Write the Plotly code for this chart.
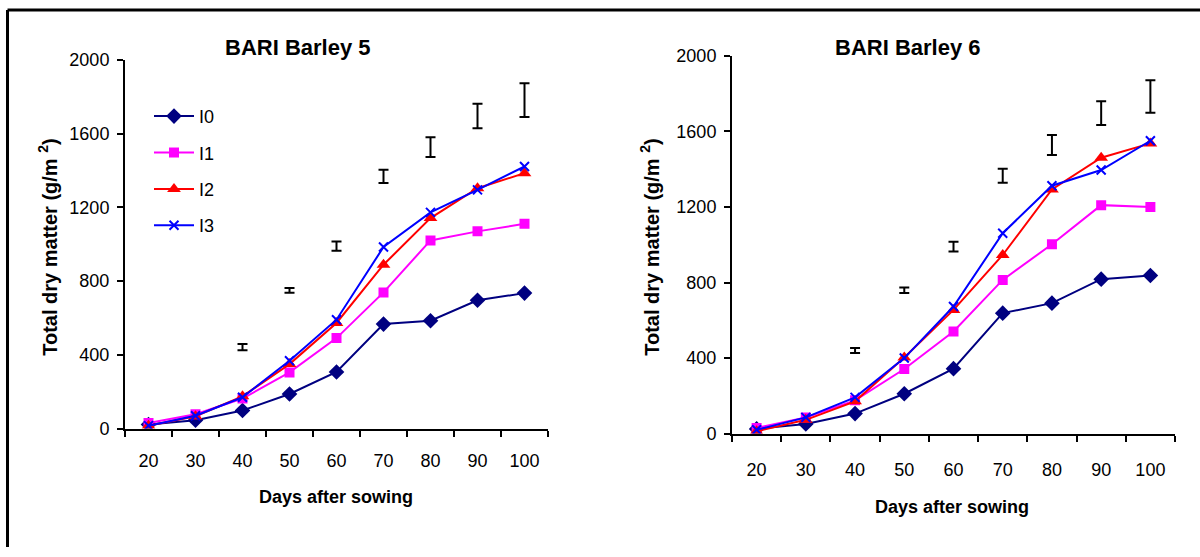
import plotly.graph_objects as go

days = ["20", "30", "40", "50", "60", "70", "80", "90", "100"]
series_names = ["I0", "I1", "I2", "I3"]

# BARI Barley 5
b5_I0 = [22, 45, 98, 188, 307, 567, 585, 696, 735]
b5_I1 = [31, 78, 163, 305, 491, 739, 1021, 1070, 1111]
b5_I2 = [15, 67, 175, 350, 573, 889, 1142, 1304, 1386]
b5_I3 = [16, 70, 170, 368, 591, 985, 1173, 1295, 1422]
b5_bar_days = ["40", "50", "60", "70", "80", "90", "100"]
b5_bar_center = [442, 750, 990, 1368, 1527, 1696, 1782]
b5_bar_half = [17, 13, 25, 36, 54, 66, 92]

# BARI Barley 6
b6_I0 = [25, 51, 106, 211, 344, 638, 691, 818, 837]
b6_I1 = [30, 85, 176, 342, 541, 814, 1003, 1210, 1200]
b6_I2 = [12, 73, 171, 403, 655, 946, 1293, 1461, 1537]
b6_I3 = [20, 86, 192, 400, 673, 1061, 1313, 1396, 1551]
b6_bar_days = ["40", "50", "60", "70", "80", "90", "100"]
b6_bar_center = [440, 759, 990, 1366, 1528, 1697, 1785]
b6_bar_half = [13, 15, 26, 37, 53, 63, 86]

titles = ["BARI Barley 5", "BARI Barley 6"]
y_ticks = [0, 400, 800, 1200, 1600, 2000]

FONT = "Liberation Sans, Arial, sans-serif"
styles = [
    dict(color="#000080", symbol="diamond", size=12),
    dict(color="#FF00FF", symbol="square", size=10),
    dict(color="#FF0000", symbol="triangle-up", size=12),
    dict(color="#0000FF", symbol="x-thin", size=9),
]

fig = go.Figure()

panels = [
    (["x", "y"], [b5_I0, b5_I1, b5_I2, b5_I3], b5_bar_days, b5_bar_center, b5_bar_half, True),
    (["x2", "y2"], [b6_I0, b6_I1, b6_I2, b6_I3], b6_bar_days, b6_bar_center, b6_bar_half, False),
]

for (xa, ya), data, bd, bc, bh, show in panels:
    for name, vals, st in zip(series_names, data, styles):
        marker = dict(color=st["color"], symbol=st["symbol"], size=st["size"])
        if st["symbol"] == "x-thin":
            marker["line"] = dict(color=st["color"], width=2)
        fig.add_trace(go.Scatter(
            x=days, y=vals, name=name, mode="lines+markers",
            line=dict(color=st["color"], width=2), marker=marker,
            xaxis=xa, yaxis=ya, showlegend=show, legendgroup=name,
        ))
    fig.add_trace(go.Scatter(
        x=bd, y=bc, mode="markers",
        marker=dict(size=1, color="rgba(0,0,0,0)"),
        error_y=dict(type="data", array=bh, symmetric=True, color="black",
                     thickness=2, width=5),
        xaxis=xa, yaxis=ya, showlegend=False, hoverinfo="skip",
    ))

W, H = 1200, 557
def px_x(p):
    return p / W
def px_y(p):
    page = (p - 10) / 0.965
    return min(1.0, max(0.0, 1 - page / H))

axis_common = dict(
    showline=True, linecolor="black", linewidth=2, mirror=False,
    showgrid=False, zeroline=False, ticks="outside", tickcolor="black",
    ticklen=6, tickwidth=2, tickfont=dict(family=FONT, size=18, color="black"),
)

fig.update_layout(
    width=W, height=H, margin=dict(l=0, r=0, t=0, b=0),
    paper_bgcolor="white", plot_bgcolor="white",
    xaxis=dict(domain=[px_x(125), px_x(548)], anchor="y", type="category",
               range=[-0.5, 8.5], tickson="boundaries", ticklabelstandoff=15,
               **axis_common),
    yaxis=dict(domain=[px_y(429), px_y(60)], anchor="x", range=[0, 2000],
               tickvals=y_ticks, ticklabelstandoff=4, **axis_common),
    xaxis2=dict(domain=[px_x(732), px_x(1175)], anchor="y2", type="category",
                range=[-0.5, 8.5], tickson="boundaries", ticklabelstandoff=19,
                **axis_common),
    yaxis2=dict(domain=[px_y(434), px_y(56)], anchor="x2", range=[0, 2000],
                tickvals=y_ticks, ticklabelstandoff=4, **axis_common),
    legend=dict(x=px_x(149), y=px_y(98), xanchor="left", yanchor="top",
                bgcolor="rgba(0,0,0,0)", font=dict(family=FONT, size=18, color="black"),
                traceorder="grouped", tracegroupgap=10, itemwidth=40),
    showlegend=True,
)

annots = [
    dict(text="<b>" + titles[0] + "</b>", x=px_x(298), y=px_y(48), size=22),
    dict(text="<b>" + titles[1] + "</b>", x=px_x(908), y=px_y(48), size=22),
    dict(text="<b>Days after sowing</b>", x=px_x(336), y=px_y(497), size=18),
    dict(text="<b>Days after sowing</b>", x=px_x(952), y=px_y(507), size=18),
    dict(text="<b>Total dry matter (g/m <sup>2</sup>)</b>", x=px_x(48), y=px_y(248),
         textangle=-90, size=20),
    dict(text="<b>Total dry matter (g/m <sup>2</sup>)</b>", x=px_x(650), y=px_y(248),
         textangle=-90, size=20),
]
for a in annots:
    size = a.pop("size")
    fig.add_annotation(xref="paper", yref="paper", showarrow=False,
                       xanchor="center", yanchor="middle",
                       font=dict(family=FONT, size=size, color="black"), **a)

# outer frame (top and left edges)
top = px_y(5.5)
fig.add_shape(type="line", xref="paper", yref="paper",
              x0=px_x(7.5), x1=px_x(7.5), y0=0, y1=top,
              line=dict(color="black", width=3))
fig.add_shape(type="line", xref="paper", yref="paper",
              x0=px_x(7.5), x1=1, y0=top, y1=top,
              line=dict(color="black", width=3))

fig.write_html(
    "out.html",
    config={"displayModeBar": False},
    post_script="document.body.style.margin='0';document.body.style.overflow='hidden';",
)
